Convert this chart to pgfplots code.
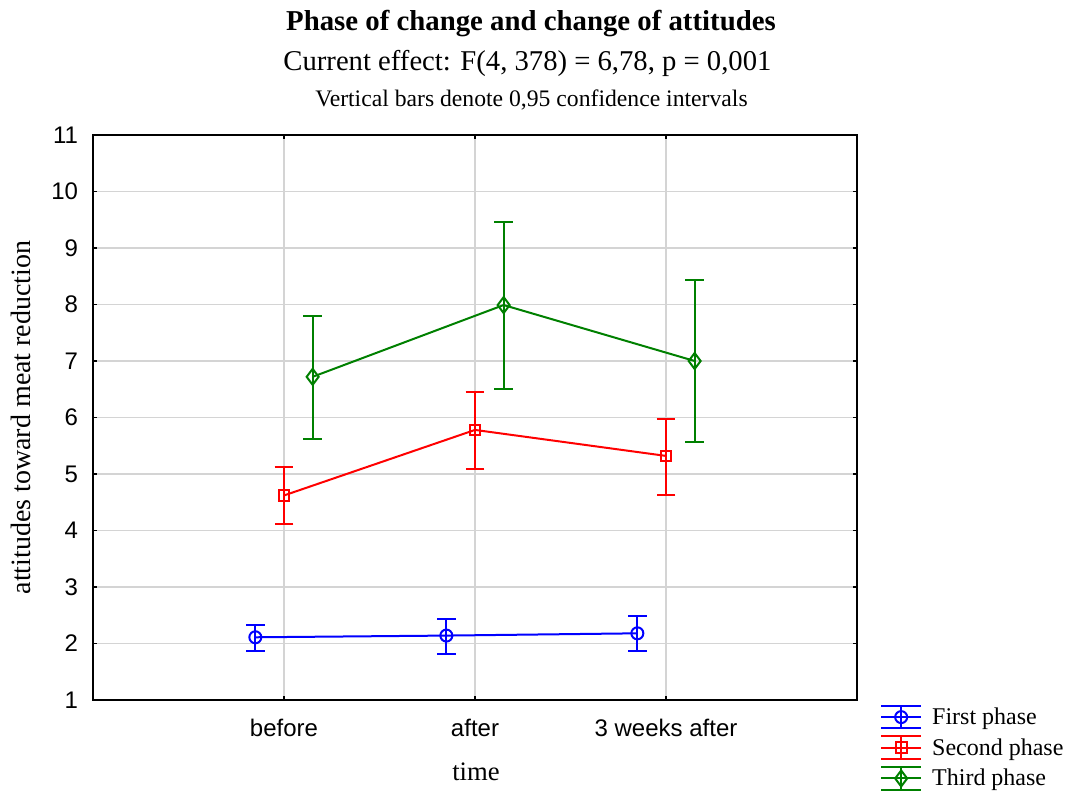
\documentclass[border=0pt]{standalone}
\usepackage{pgfplots}
\pgfplotsset{compat=1.18}
\usepackage{fontspec}
\setmainfont{Liberation Serif}
\newfontfamily\arial{Liberation Sans}
\definecolor{sgreen}{RGB}{0,128,0}
\definecolor{gridgray}{RGB}{212,212,212}

\pgfplotstableread{
x y ep em
0.85 2.11 0.22 0.24
1.85 2.14 0.30 0.33
2.85 2.18 0.31 0.31
}\first
\pgfplotstableread{
x y ep em
1 4.62 0.50 0.50
2 5.78 0.68 0.70
3 5.32 0.65 0.69
}\second
\pgfplotstableread{
x y ep em
1.15 6.72 1.07 1.10
2.15 7.99 1.47 1.48
3.15 7.00 1.43 1.44
}\third

\begin{document}
\begin{tikzpicture}
\path[use as bounding box] (0,0) rectangle (798.75pt,596.25pt);
\begin{axis}[
  at={(69.75pt,71.25pt)}, anchor=south west,
  scale only axis, width=573pt, height=423.75pt,
  xmin=0, xmax=4, ymin=1, ymax=11,
  xtick={1,2,3}, xticklabels={before,after,3 weeks after},
  ytick={1,2,...,11},
  grid=major,
  major grid style={gridgray, line width=1.2pt},
  axis line style={black, line width=1.1pt},
  tick align=inside, major tick length=3pt,
  tick style={black, line width=1.1pt},
  /pgf/number format/assume math mode=true,
  ticklabel style={font=\arial\fontsize{18}{20}\selectfont},
  yticklabel style={anchor=east, inner sep=0pt, xshift=-11pt},
  xticklabel style={anchor=base, inner sep=0pt, yshift=-27.75pt},
  clip=false,
  legend style={at={(1.03,-0.008)}, anchor=north west, draw=none, fill=none,
    inner sep=0pt, row sep=4.5pt, column sep=7.5pt,
    font=\fontsize{18}{20}\selectfont,
    nodes={inner sep=0pt, anchor=west}},
  legend cell align=left,
  legend image code/.code={%
    \draw[#1] (0pt,8.5pt) -- (30pt,8.5pt) (0pt,-8.5pt) -- (30pt,-8.5pt)
       (15pt,-8.5pt) -- (15pt,8.5pt);
    \draw[mark repeat=2,mark phase=2,#1] plot coordinates {(0pt,0pt) (15pt,0pt) (30pt,0pt)};
  },
  every axis plot/.append style={line width=1.5pt},
  error bars/error bar style={line width=1.5pt},
  error bars/error mark options={line width=1.5pt, mark size=7pt, rotate=90},
]
\addplot[blue, mark=o, mark size=4.5pt, mark options={solid, line width=1.5pt},
  error bars/.cd, y dir=both, y explicit]
  table[x=x, y=y, y error plus=ep, y error minus=em] {\first};
\addlegendentry{First phase}
\addplot[red, mark=square, mark size=4pt, mark options={solid, line width=1.5pt},
  error bars/.cd, y dir=both, y explicit]
  table[x=x, y=y, y error plus=ep, y error minus=em] {\second};
\addlegendentry{Second phase}
\addplot[sgreen, mark=diamond, mark size=6pt, mark options={solid, line width=1.5pt},
  error bars/.cd, y dir=both, y explicit]
  table[x=x, y=y, y error plus=ep, y error minus=em] {\third};
\addlegendentry{Third phase}
\end{axis}
\node[anchor=base, font=\bfseries\fontsize{21.6}{24}\selectfont] at (398.25pt,573pt) {Phase of change and change of attitudes};
\node[anchor=base, font=\fontsize{21.5}{24}\selectfont] at (395.6pt,543pt) {Current effect: F(4, 378) = 6,78, p = 0,001};
\node[anchor=base, font=\fontsize{17.75}{20}\selectfont] at (398.6pt,516pt) {Vertical bars denote 0,95 confidence intervals};
\node[anchor=base, rotate=90, font=\fontsize{21}{24}\selectfont] at (23.25pt,283.1pt) {attitudes toward meat reduction};
\node[anchor=base, font=\fontsize{20}{24}\selectfont] at (357pt,10.5pt) {time};
\end{tikzpicture}
\end{document}
